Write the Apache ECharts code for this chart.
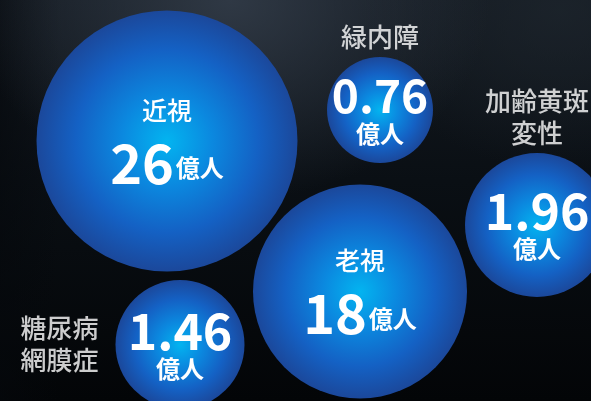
<!DOCTYPE html>
<html>
<head>
<meta charset="utf-8">
<script src="https://cdn.jsdelivr.net/npm/echarts@6/dist/echarts.min.js"></script>
<style>
html,body{margin:0;padding:0;width:591px;height:401px;overflow:hidden;}
body{
  background:
    radial-gradient(ellipse 260px 200px at 230px 0px, rgba(52,62,75,0.85), rgba(52,62,75,0) 100%),
    radial-gradient(ellipse 200px 160px at 560px 10px, rgba(30,38,46,0.7), rgba(30,38,46,0) 100%),
    linear-gradient(to right, rgba(5,8,12,0.6) 0px, rgba(5,8,12,0) 60px),
    linear-gradient(to bottom, #141a21 0%, #0a0f14 45%, #030507 100%);
}
#chart{width:591px;height:401px;}
</style>
</head>
<body>
<div id="chart"></div>
<script>
// ---- data ----
const names = ['近視', '老視', '緑内障', '加齢黄斑変性', '糖尿病網膜症'];
const nameLines = ['近視', '老視', '緑内障', '加齢黄斑\n変性', '糖尿病\n網膜症'];
const values = [26, 18, 0.76, 1.96, 1.46];
const valueLabels = ['26', '18', '0.76', '1.96', '1.46'];
const unit = '億人';

// ---- layout (positions in axis units, sizes, label placement) ----
const posX = [167, 360, 380, 537, 180];
const posY = [141, 291.5, 110, 225, 344.5];
const diameters = [261, 214, 106, 144, 129];
const nameMode = ['inside', 'inside', 'top', 'top', 'left'];
const numStyle = ['big', 'big', 'mid', 'lg', 'lg'];

const FONT = '"Noto Sans CJK JP", "Noto Sans", sans-serif';

const bubbleColor = {
  type: 'radial', x: 0.5, y: 0.5, r: 0.5,
  colorStops: [
    {offset: 0, color: '#03b4f0'},
    {offset: 0.35, color: '#0b88df'},
    {offset: 0.7, color: '#1461c4'},
    {offset: 1, color: '#1b489b'}
  ]
};

const richStyles = {
  n:  {fontFamily: FONT, fontSize: 25, fontWeight: 500, color: '#fff', lineHeight: 44},
  big:{fontFamily: FONT, fontSize: 54, fontWeight: 'bold', color: '#fff', lineHeight: 62},
  ub: {fontFamily: FONT, fontSize: 24, fontWeight: 'bold', color: '#fff', lineHeight: 62, padding: [10, 0, 0, 2]},
  mid:{fontFamily: FONT, fontSize: 46, fontWeight: 'bold', color: '#fff', lineHeight: 48},
  lg: {fontFamily: FONT, fontSize: 50, fontWeight: 'bold', color: '#fff', lineHeight: 48},
  us: {fontFamily: FONT, fontSize: 24, fontWeight: 'bold', color: '#fff', lineHeight: 28}
};

const bubbleData = names.map((nm, i) => {
  let fmt;
  if (nameMode[i] === 'inside') {
    fmt = '{n|' + nameLines[i] + '}\n{big|' + valueLabels[i] + '}{ub|' + unit + '}';
  } else {
    fmt = '{' + numStyle[i] + '|' + valueLabels[i] + '}\n{us|' + unit + '}';
  }
  return {
    name: nm,
    value: [posX[i], posY[i], values[i]],
    symbolSize: diameters[i],
    label: {show: true, position: 'inside', formatter: fmt, rich: richStyles}
  };
});

const nameData = names.map((nm, i) => {
  const mode = nameMode[i];
  return {
    name: nm,
    value: [posX[i], posY[i], values[i]],
    symbolSize: diameters[i],
    label: {
      show: mode !== 'inside',
      position: mode === 'inside' ? 'inside' : mode,
      distance: mode === 'left' ? 17 : 4,
      formatter: nameLines[i],
      fontFamily: FONT,
      fontSize: 26,
      fontWeight: 500,
      lineHeight: 32,
      color: '#ffffff',
      align: mode === 'left' ? 'right' : 'center'
    }
  };
});

const chart = echarts.init(document.getElementById('chart'), null, {renderer: 'canvas'});
chart.setOption({
  backgroundColor: 'transparent',
  animation: false,
  grid: {left: 0, right: 0, top: 0, bottom: 0},
  xAxis: {type: 'value', min: 0, max: 591, show: false},
  yAxis: {type: 'value', min: 0, max: 401, inverse: true, show: false},
  series: [
    {
      type: 'scatter',
      symbol: 'circle',
      data: bubbleData,
      itemStyle: {color: bubbleColor, opacity: 1},
      emphasis: {disabled: true},
      silent: true,
      z: 2
    },
    {
      type: 'scatter',
      symbol: 'circle',
      data: nameData,
      itemStyle: {color: 'rgba(0,0,0,0)'},
      emphasis: {disabled: true},
      silent: true,
      z: 3
    }
  ]
});
</script>
</body>
</html>
